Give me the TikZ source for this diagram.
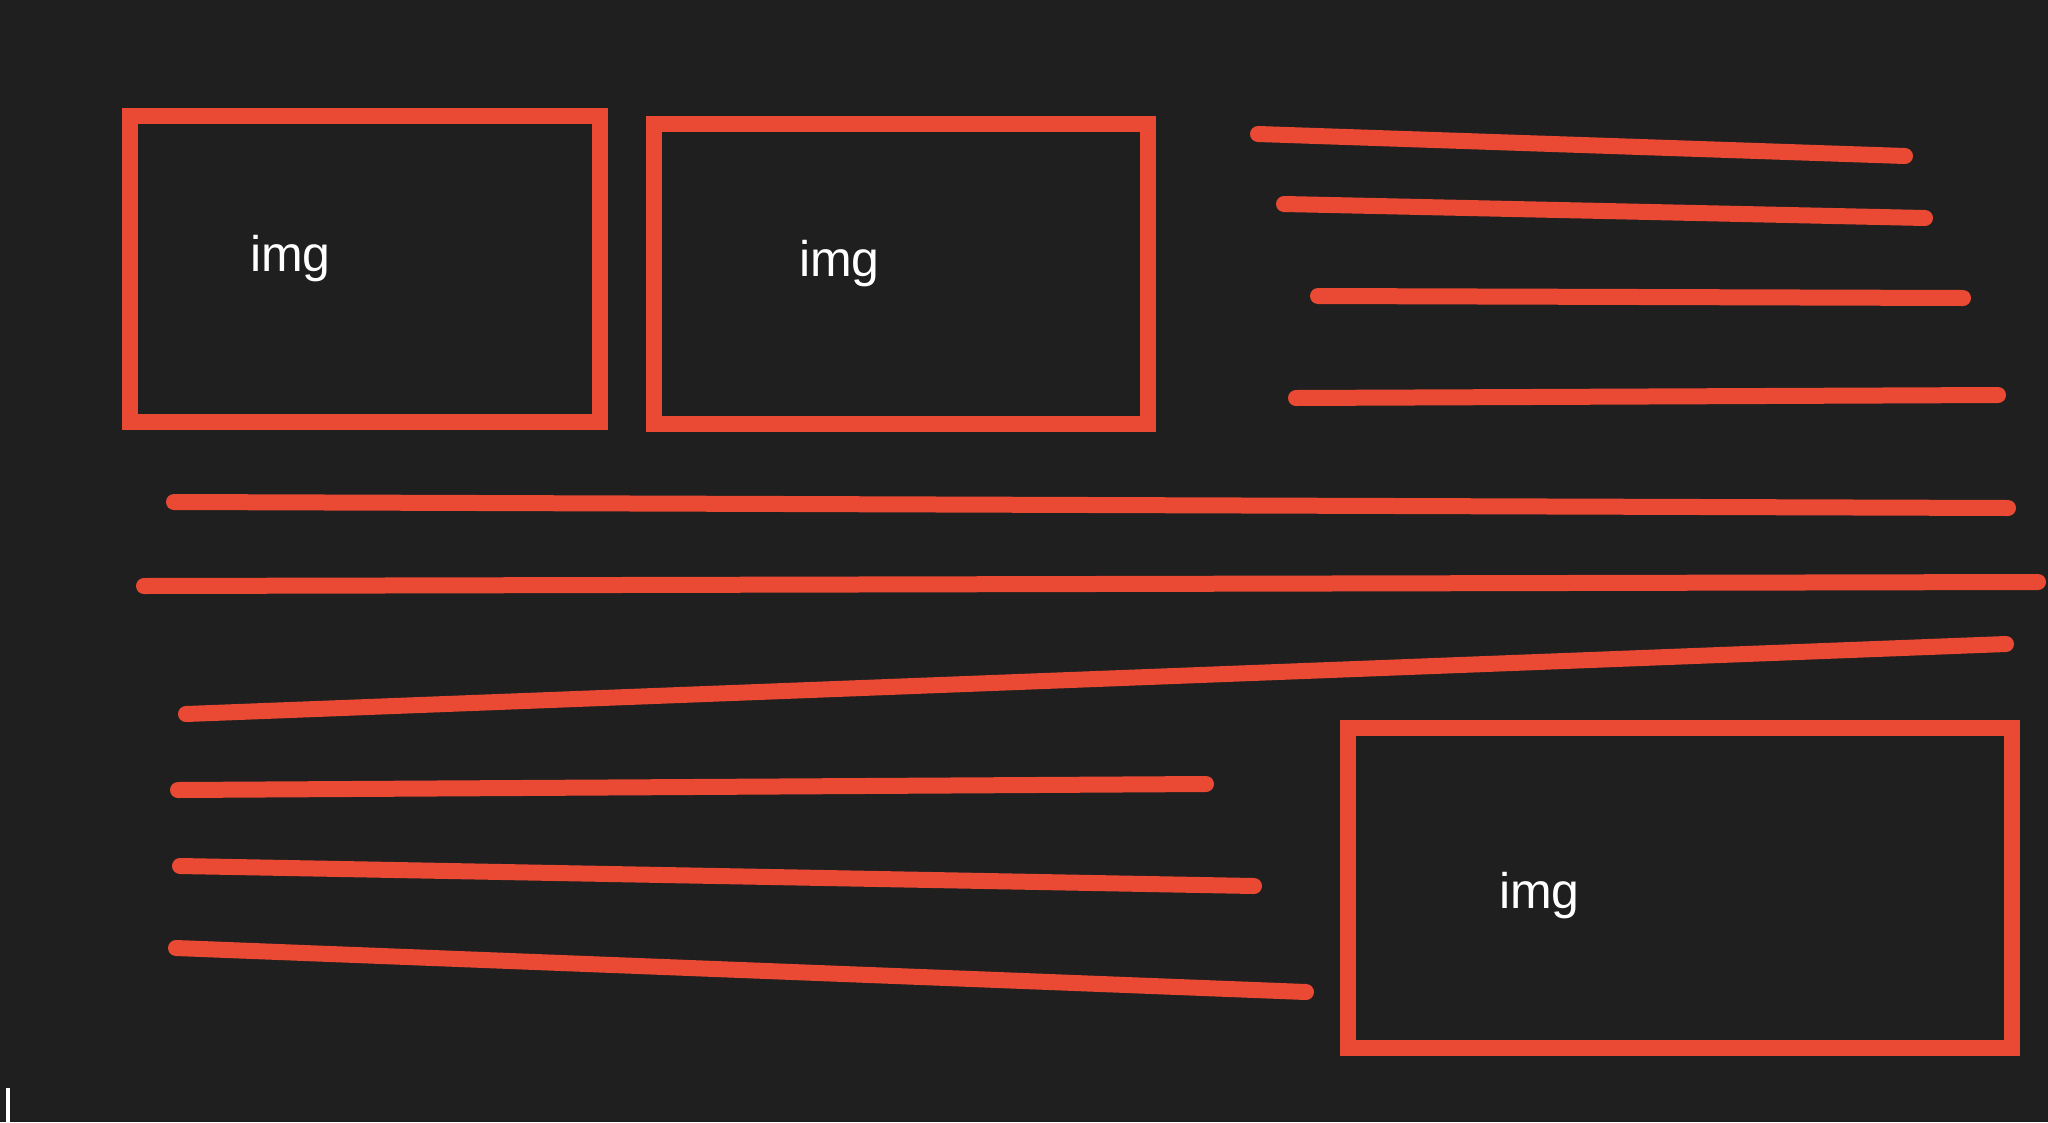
\documentclass[tikz,border=0pt]{standalone}
\usepackage{fontspec}
\setmainfont{Liberation Sans}
\definecolor{bg}{RGB}{31,31,31}
\definecolor{redline}{RGB}{234,74,52}
\begin{document}
\begin{tikzpicture}[x=1pt,y=-1pt,
  imgbox/.style={draw=redline,line width=16pt,rectangle,inner sep=0pt,fill=none},
  stroke/.style={draw=redline,line width=16pt,line cap=round},
  lbl/.style={text=white,inner sep=0pt,anchor=base west,font=\fontsize{50}{50}\selectfont}]
\fill[bg] (0,0) rectangle (2048,1122);
\useasboundingbox (0,0) rectangle (2048,1122);
% image boxes
\node[imgbox,minimum width=470pt,minimum height=306pt] (box1) at (365,269) {};
\node[imgbox,minimum width=494pt,minimum height=300pt] (box2) at (901,274) {};
\node[imgbox,minimum width=664pt,minimum height=320pt] (box3) at (1680,888) {};
\node[lbl] (t1) at (250,271) {img};
\node[lbl] (t2) at (799,276) {img};
\node[lbl] (t3) at (1499,908) {img};
% line end points
\coordinate (a1) at (1258,134); \coordinate (b1) at (1905,156);
\coordinate (a2) at (1284,204); \coordinate (b2) at (1925,218);
\coordinate (a3) at (1318,296); \coordinate (b3) at (1963,298);
\coordinate (a4) at (1296,398); \coordinate (b4) at (1998,395);
\coordinate (a5) at (174,502);  \coordinate (b5) at (2008,508);
\coordinate (a6) at (144,586);  \coordinate (b6) at (2038,582);
\coordinate (a7) at (186,714);  \coordinate (b7) at (2006,644);
\coordinate (a8) at (178,790);  \coordinate (b8) at (1206,784);
\coordinate (a9) at (180,866);  \coordinate (b9) at (1254,886);
\coordinate (a10) at (176,948); \coordinate (b10) at (1306,992);
\foreach \i in {1,...,10} {\draw[stroke] (a\i) -- (b\i);}
% text cursor
\fill[white] (6,1088) rectangle (10,1122);
\end{tikzpicture}
\end{document}
